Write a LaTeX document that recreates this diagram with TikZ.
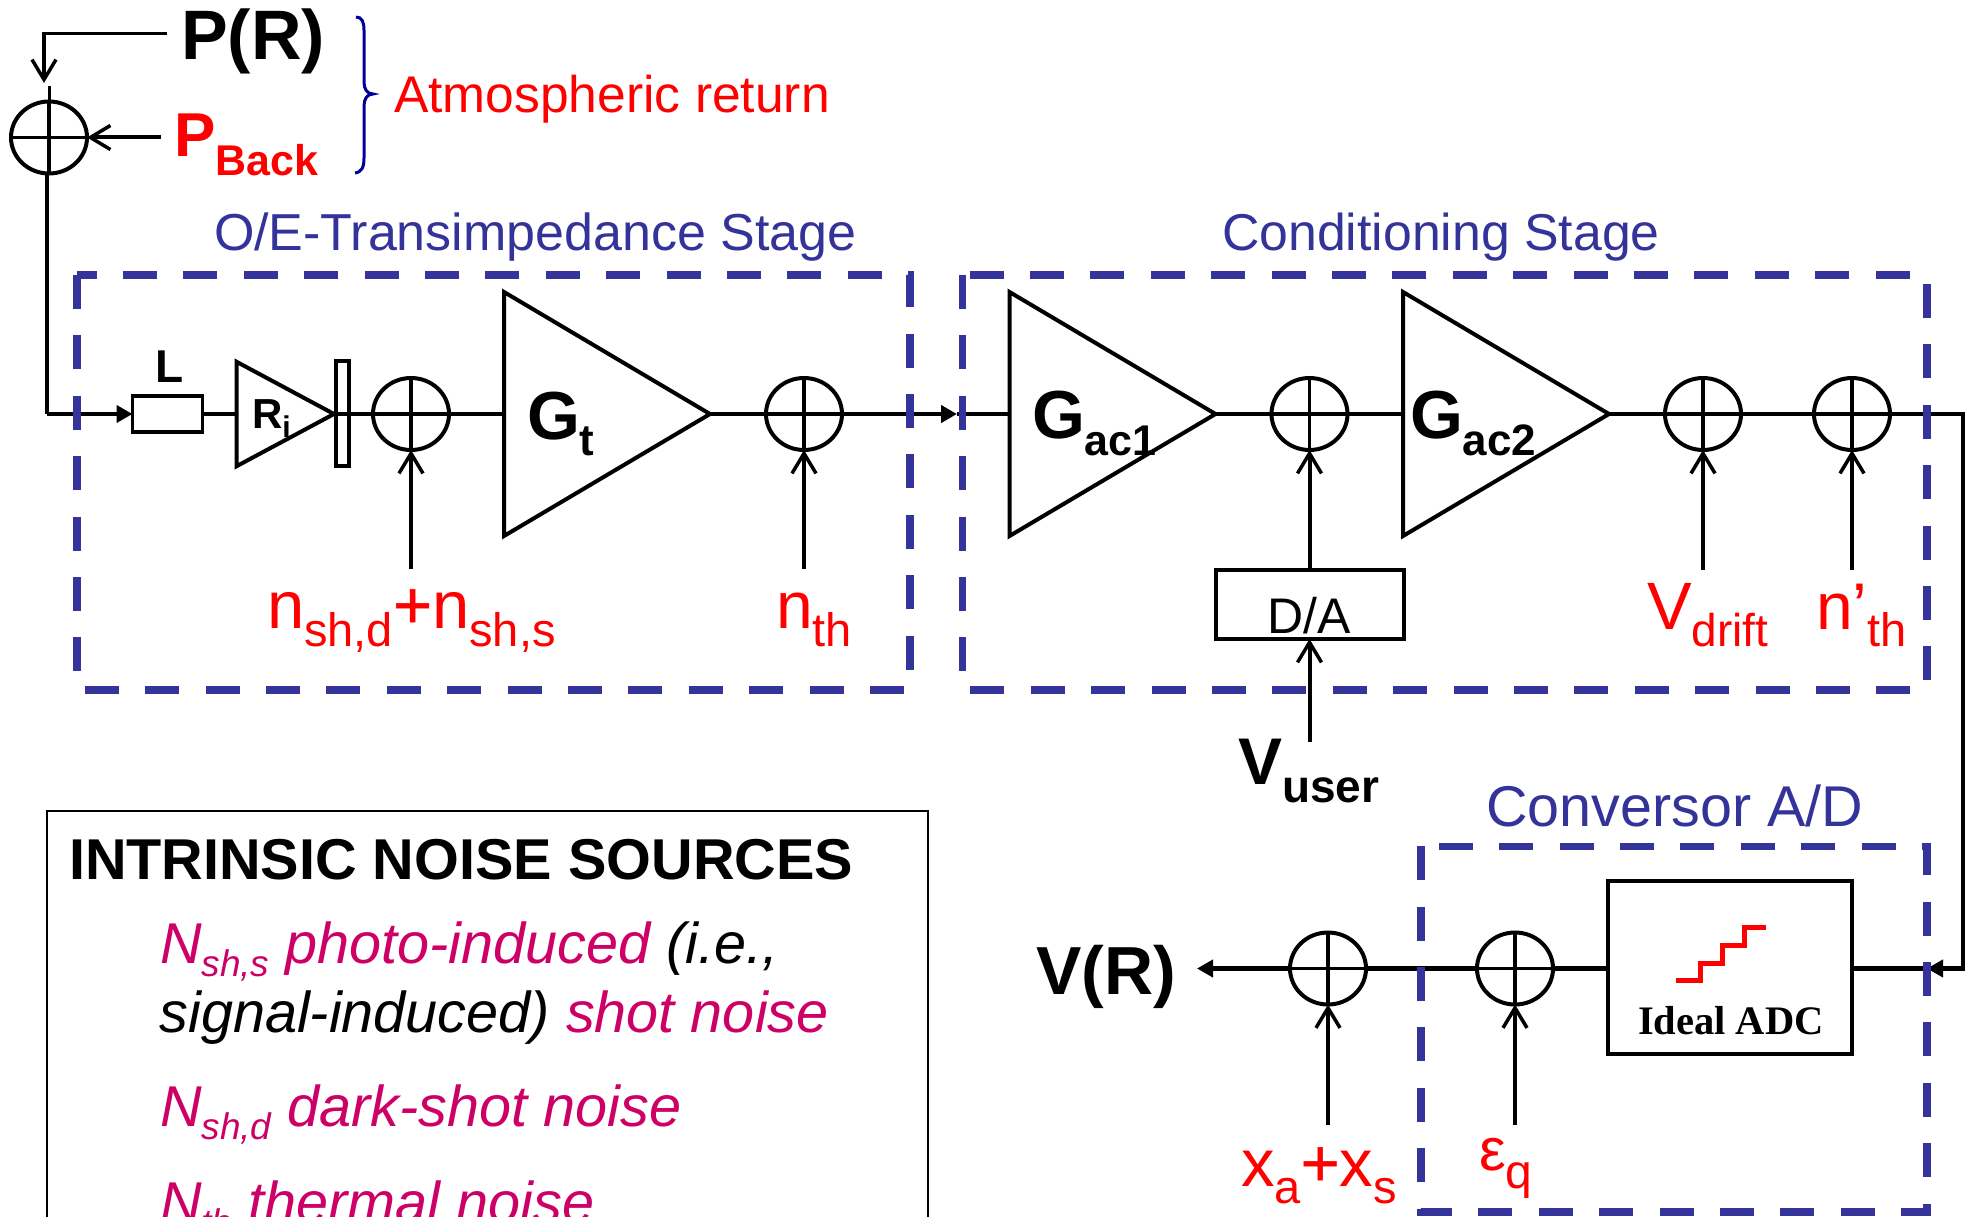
\documentclass[tikz,border=0pt]{standalone}
\usepackage{fontspec}
\setmainfont{Liberation Sans}
\newfontfamily\adcserif{Liberation Serif}
\newfontfamily\plusfont[FakeBold=0.8]{Liberation Sans}
\usetikzlibrary{arrows.meta,shapes.geometric,calc}
\definecolor{stageblue}{RGB}{51,51,153}
\definecolor{bracenavy}{RGB}{0,0,153}
\definecolor{noisered}{RGB}{255,0,0}
\definecolor{noisemag}{RGB}{204,0,102}
\newcommand{\fs}[1]{\fontsize{#1}{#1}\selectfont}
\newcommand{\lowr}[3]{\raisebox{-#1pt}{\fs{#2}#3}}
\tikzset{
  x=1pt,y=-1pt,
  txt/.style={inner sep=0pt,outer sep=0pt,anchor=base west},
  sumnode/.style={ellipse,draw=black,line width=4pt,minimum width=76pt,minimum height=72pt,inner sep=0pt,outer sep=0pt,
    path picture={\draw[line width=3.5pt] (path picture bounding box.north)--(path picture bounding box.south)
      (path picture bounding box.west)--(path picture bounding box.east);}},
  amp/.style={isosceles triangle,isosceles triangle stretches,draw=black,line width=4pt,inner sep=0pt,outer sep=0pt,anchor=lower side},
  bigamp/.style={amp,minimum height=206pt,minimum width=244pt},
  boxnode/.style={rectangle,draw=black,line width=4pt,inner sep=0pt,outer sep=0pt},
  stagearea/.style={rectangle,inner sep=0pt,outer sep=0pt},
  stageline/.style={draw=stageblue,line width=7.5pt,line join=miter,dash pattern=on 34pt off 26.4pt},
  wire/.style={draw=black,line width=4.5pt},
  inwire/.style={draw=black,line width=4pt,-{Straight Barb[length=20pt,width=24pt,line width=3.5pt]}},
  flowtip/.style={draw=black,line width=4.5pt,-{Triangle[length=16pt,width=17pt]}},
}
\begin{document}
\begin{tikzpicture}
\clip (0,0) rectangle (1966,1217);
\fill[white] (0,0) rectangle (1966,1217);

% summing junctions
\node[sumnode] (sp) at (49,137.5) {};
\node[sumnode] (s2) at (411,414) {};
\node[sumnode] (s3) at (804,414) {};
\node[sumnode] (s4) at (1309.5,414) {};
\node[sumnode] (s5) at (1703,414) {};
\node[sumnode] (s6) at (1852,414) {};
\node[sumnode] (s7) at (1515,968.5) {};
\node[sumnode] (s8) at (1328,968.5) {};

% blocks
\node[boxnode,line width=3.5pt,minimum width=70pt,minimum height=36pt] (lbox) at (167.5,414) {};
\node[amp,minimum height=97.5pt,minimum width=104.5pt] (ri) at (236.5,414) {};
\node[boxnode,line width=3.5pt,minimum width=13pt,minimum height=105pt] (pd) at (342.5,413.5) {};
\node[bigamp] (gt) at (504,414) {};
\node[bigamp] (g1) at (1009.5,414) {};
\node[bigamp] (g2) at (1403,414) {};
\node[boxnode,minimum width=188pt,minimum height=69pt] (da) at (1309.5,604.5) {};
\node[boxnode,minimum width=244pt,minimum height=173pt] (adc) at (1730,967.5) {};

% labels
\node[txt] (prlab) at (181,60) {\fs{70}\bfseries P(R)};
\node[txt,text=noisered] (pback) at (174,157) {\fs{62}\bfseries P\lowr{19}{43}{Back}};
\node[txt,text=noisered] (atm) at (394,113) {\fs{51.6}Atmospheric return};
\node[txt,text=stageblue] (oe) at (214,251) {\fs{52}O/E-Transimpedance Stage};
\node[txt,text=stageblue] (cs) at (1222,251) {\fs{51.8}Conditioning Stage};
\node[txt,text=stageblue] (cv) at (1486,826) {\fs{57.5}Conversor A/D};
\node[txt] (llab) at (155,382) {\fs{46}\bfseries L};
\node[txt] (rilab) at (252,428) {\fs{42}\bfseries R\lowr{9}{30}{i}};
\node[txt] (gtlab) at (527,439) {\fs{68}\bfseries G\lowr{16}{44}{t}};
\node[txt] (g1lab) at (1032,438) {\fs{68}\bfseries G\lowr{17}{43}{ac1}};
\node[txt] (g2lab) at (1410,438) {\fs{68}\bfseries G\lowr{17}{44}{ac2}};
\node[txt,text=noisered] (nsh) at (267,628) {\fs{67}n\lowr{18}{47}{sh,d}{\plusfont +}n\lowr{18}{47}{sh,s}};
\node[txt,text=noisered] (nth) at (776,628) {\fs{66}n\lowr{18}{47}{th}};
\node[txt,text=noisered] (vdr) at (1647,629) {\fs{67}V\lowr{17}{46}{drift}};
\node[txt,text=noisered] (nthp) at (1816,629) {\fs{66}n’\lowr{17}{47}{th}};
\node[txt] (dalab) at (1267,633) {\fs{50}D/A};
\node[txt] (vuser) at (1238,784) {\fs{66}\bfseries V\lowr{18}{46}{user}};
\node[txt] (vr) at (1036,994) {\fs{68}\bfseries V(R)};
\node[txt,text=noisered] (xax) at (1241,1186) {\fs{67}x\lowr{17}{47}{a}{\plusfont +}x\lowr{17}{47}{s}};
\node[txt,text=noisered] (eq) at (1479,1170) {\fs{60}ε\lowr{18}{48}{q}};
\node[txt] (adclab) at (1638,1034) {\adcserif\fs{40.5}\bfseries Ideal ADC};

% free ends
\coordinate (prend) at (165,33.5);
\coordinate (prcorner) at (44,33.5);
\coordinate (prtip) at (44,83);
\coordinate (spstub) at (49,86);
\coordinate (pbend) at (161,137.5);
\coordinate (jn) at (47,414);
\coordinate (tipA) at (957,414);
\coordinate (nshend) at (411,569);
\coordinate (nthend) at (804,569);
\coordinate (vdrend) at (1703,569.5);
\coordinate (nthpend) at (1852,569.5);
\coordinate (vuend) at (1309.5,741.5);
\coordinate (rcorner) at (1963,414);
\coordinate (rlow) at (1963,968.5);
\coordinate (rtip) at (1927,968.5);
\coordinate (vrtip) at (1197,968.5);
\coordinate (xaend) at (1328,1125);
\coordinate (eqend) at (1515,1125);

% connectors
\draw[wire,line width=3.5pt,line join=miter,line cap=rect] (prend) -- (prcorner);
\draw[inwire] (prcorner) -- (prtip);
\draw[wire,line width=3pt] (sp.north) -- (spstub);
\draw[inwire] (pbend) -- (sp.east);
\draw[wire] (sp.south -| jn) -- (jn);
\draw[flowtip] (jn) -- (lbox.west);
\draw[wire] (lbox.east) -- (ri.lower side);
\draw[wire] (ri.apex) -- (s2.west);
\draw[wire] (s2.east) -- (gt.lower side);
\draw[wire] (gt.apex) -- (s3.west);
\draw[flowtip] (s3.east) -- (tipA);
\draw[wire] (tipA) -- (g1.lower side);
\draw[wire] (g1.apex) -- (s4.west);
\draw[wire] (s4.east) -- (g2.lower side);
\draw[wire] (g2.apex) -- (s5.west);
\draw[wire] (s5.east) -- (s6.west);
\draw[wire,line cap=rect] (s6.east) -- (rcorner) -- (rlow);
\draw[flowtip] (rlow) -- (rtip);
\draw[wire] (rtip) -- (adc.east |- rtip);
\draw[wire] (adc.west |- s7.east) -- (s7.east);
\draw[wire] (s7.west) -- (s8.east);
\draw[flowtip] (s8.west) -- (vrtip);
\draw[inwire] (nshend) -- (s2.south);
\draw[inwire] (nthend) -- (s3.south);
\draw[inwire] (da.north) -- (s4.south);
\draw[inwire] (vuend) -- (da.south);
\draw[inwire] (vdrend) -- (s5.south);
\draw[inwire] (nthpend) -- (s6.south);
\draw[inwire] (xaend) -- (s8.south);
\draw[inwire] (eqend) -- (s7.south);

% ideal transfer staircase
\draw[noisered,line width=5pt] (1676,980.5) -- (1700.5,980.5) -- (1700.5,963) -- (1722,963) -- (1722,945) -- (1744,945) -- (1744,927) -- (1766,927);

% brace
\draw[bracenavy,line width=3pt] (356,17) .. controls (362,17) and (364,22) .. (364,30) -- (364,82)
  .. controls (364,89) and (367,94) .. (373,94) .. controls (367,94) and (364,99) .. (364,106) -- (364,158)
  .. controls (364,167) and (362,172) .. (355,173);

% stage outlines
\node[stagearea,minimum width=833pt,minimum height=415pt] (st1) at (493.5,482.5) {};
\node[stagearea,minimum width=964.5pt,minimum height=415pt] (st2) at (1444.75,482.5) {};
\node[stagearea,minimum width=506pt,minimum height=365.5pt] (st3) at (1674,1029) {};
\draw[stageline] (st1.north west) -- (st1.south west) -- (st1.south east) -- (st1.north east) -- cycle;
\draw[stageline] (st2.north west) -- (st2.south west) -- (st2.south east) -- (st2.north east) -- cycle;
\draw[stageline] (st3.north west) -- (st3.south west) -- (st3.south east) -- (st3.north east) -- cycle;

% legend
\node[rectangle,draw=black,line width=2pt,inner sep=0pt,outer sep=0pt,minimum width=881.5pt,minimum height=460pt] (legend) at (487.25,1040.7) {};
\node[txt] (lt) at (69,879) {\fs{57.6}\bfseries INTRINSIC NOISE SOURCES};
\node[txt,text=noisemag] (l1) at (160,963) {\fs{57.6}\itshape N\lowr{13}{37}{sh,s} photo-induced \textcolor{black}{(i.e.,}};
\node[txt,text=black] (l2) at (159.5,1032) {\fs{57.6}\itshape signal-induced) \textcolor{noisemag}{shot noise}};
\node[txt,text=noisemag] (l3) at (160,1126) {\fs{57.6}\itshape N\lowr{13}{37}{sh,d} dark-shot noise};
\node[txt,text=noisemag] (l4) at (160,1222) {\fs{57.6}\itshape N\lowr{13}{37}{th} thermal noise};
\end{tikzpicture}
\end{document}
